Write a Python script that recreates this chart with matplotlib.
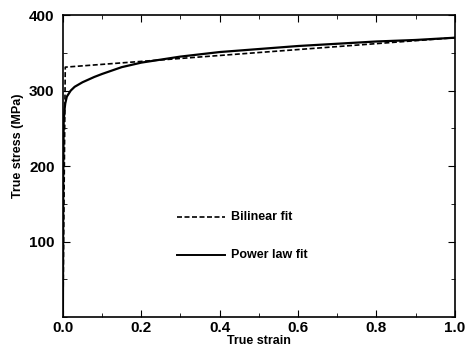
import matplotlib
matplotlib.use("Agg")
import matplotlib.pyplot as plt
from matplotlib.ticker import MultipleLocator

# curves
power_strain = [0, 0.001, 0.002, 0.004, 0.006, 0.01, 0.02, 0.03, 0.05, 0.08,
                0.1, 0.15, 0.2, 0.3, 0.4, 0.5, 0.6, 0.7, 0.8, 0.9, 1.0]
power_stress = [0, 200, 258, 274, 283, 292, 300, 305, 311, 318,
                322, 331, 337, 345, 351, 355, 359, 362, 365, 367, 370]

bilinear_strain = [0, 0.006, 1.0]
bilinear_stress = [0, 331, 370]

plt.rcParams['font.family'] = ['Liberation Sans', 'DejaVu Sans']
plt.rcParams['font.weight'] = 'bold'

fig = plt.figure(figsize=(4.66, 3.5), dpi=100)
ax = fig.add_axes([0.135, 0.094, 0.841, 0.863])

ax.plot(power_strain, power_stress, 'k-', lw=1.6)
ax.plot(bilinear_strain, bilinear_stress, 'k--', lw=1.2, dashes=(3, 1.5))

# hand-placed legend inside the plot
ax.plot([0.29, 0.413], [132, 132], 'k--', lw=1.2, dashes=(3, 1.5))
ax.text(0.43, 132, 'Bilinear fit', va='center', fontsize=9, fontweight='bold')
ax.plot([0.29, 0.413], [82, 82], 'k-', lw=1.4)
ax.text(0.43, 82, 'Power law fit', va='center', fontsize=9, fontweight='bold')

ax.set_xlim(0, 1.0)
ax.set_ylim(0, 400)
ax.xaxis.set_major_locator(MultipleLocator(0.2))
ax.xaxis.set_minor_locator(MultipleLocator(0.1))
ax.yaxis.set_major_locator(MultipleLocator(100))
ax.yaxis.set_minor_locator(MultipleLocator(50))
ax.set_yticks([100, 200, 300, 400])
ax.tick_params(which='both', direction='in', top=True, right=True)
ax.tick_params(which='major', length=5, labelsize=11)
ax.tick_params(which='minor', length=3)
ax.tick_params(axis='x', pad=3)
ax.tick_params(axis='y', pad=6)
for lab in ax.get_xticklabels() + ax.get_yticklabels():
    lab.set_fontweight('bold')
for s in ax.spines.values():
    s.set_linewidth(1.2)

ax.set_xlabel('True strain', fontsize=9, fontweight='bold', labelpad=0)
ax.set_ylabel('True stress (MPa)', fontsize=9, fontweight='bold')
ax.yaxis.set_label_coords(-0.1, 0.566)

fig.savefig('out.png', dpi=100)
